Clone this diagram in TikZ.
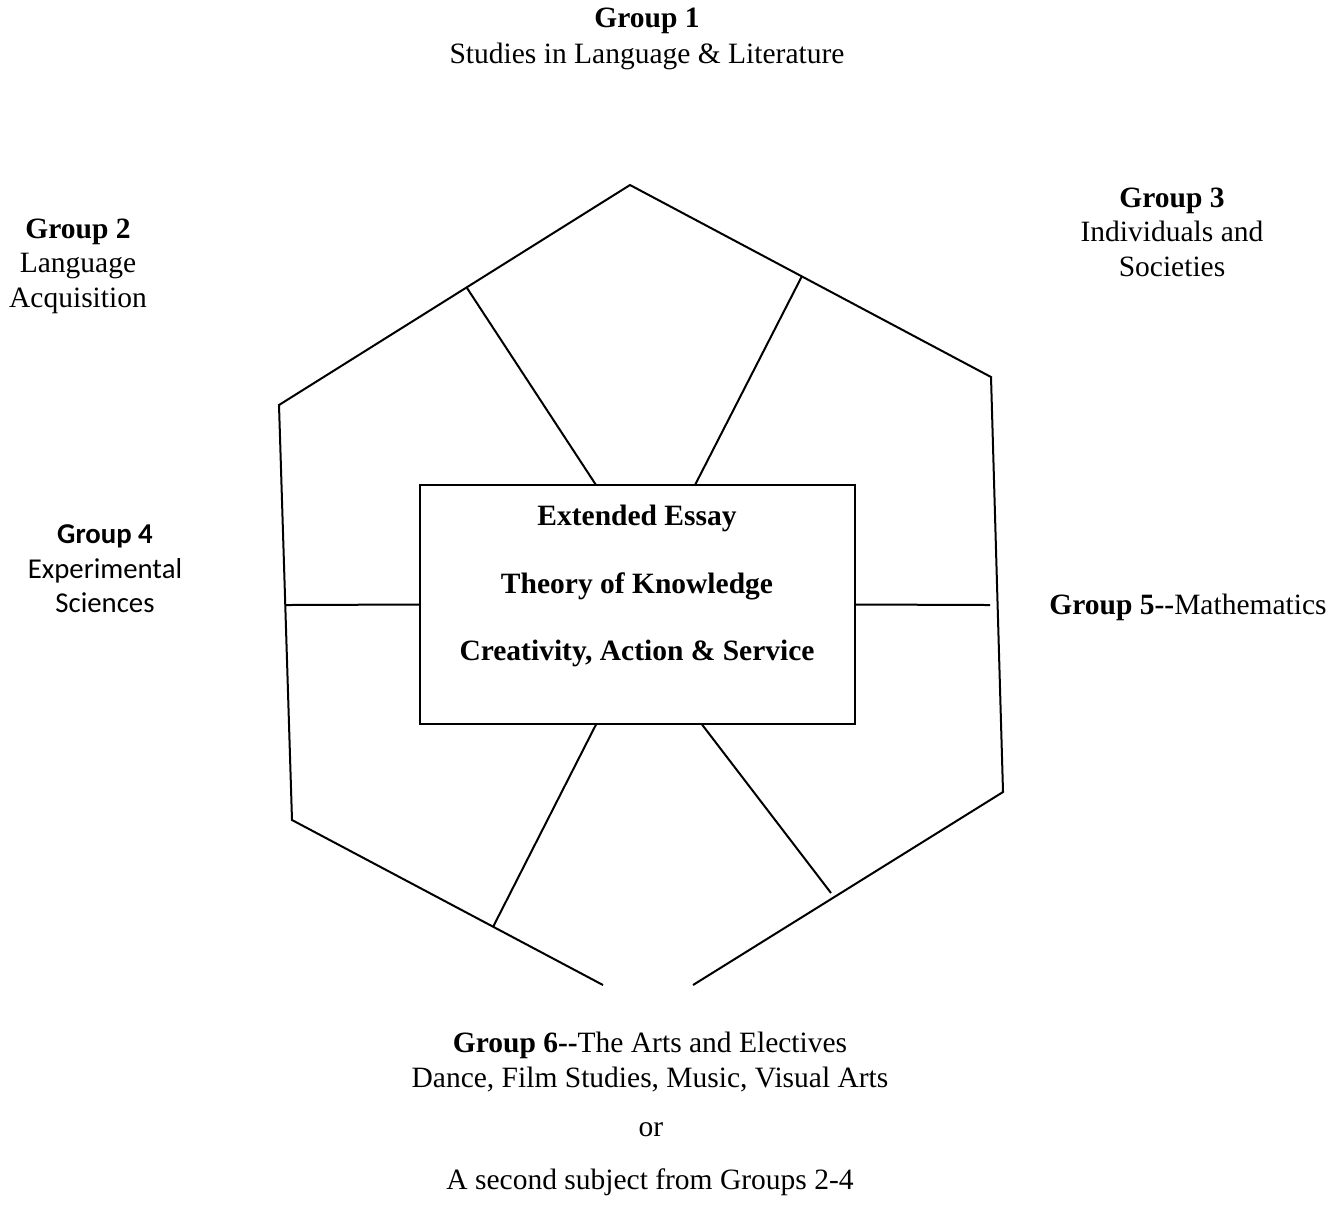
\documentclass[tikz,border=0pt]{standalone}
\usepackage{fontspec}
\setmainfont{Liberation Serif}
\newfontfamily\grpsans{Carlito}
\usetikzlibrary{positioning}

\tikzset{
  lbl/.style={inner sep=0pt, align=center, font=\fontsize{11.8}{13.8}\selectfont},
  lblsans/.style={lbl, font=\grpsans\fontsize{11.5}{13.8}\selectfont},
  corebox/.style={draw, line width=0.8pt, minimum width=174pt, minimum height=95.6pt, inner sep=0pt},
  wall/.style={line width=0.8pt, line join=miter}
}

\begin{document}
\begin{tikzpicture}[x=0.4pt, y=-0.4pt]
	\useasboundingbox (0,0) rectangle (1343,1228);
	% hexagon corners, open at the bottom
	\coordinate (hbl) at (603,985); \coordinate (hlb) at (292,820);
	\coordinate (hlt) at (279,405); \coordinate (htop) at (630,185);
	\coordinate (hrt) at (991,377); \coordinate (hrb) at (1003,792);
	\coordinate (hbr) at (693,985);
	\draw[wall] (hbl) -- (hlb) -- (hlt) -- (htop) -- (hrt) -- (hrb) -- (hbr);
	
	\node[corebox] (core) at (637.5,604.5) {};
	
	% spokes
	\coordinate (s1) at (467,288); \coordinate (c1) at (596,485);
	\coordinate (s2) at (802,276); \coordinate (c2) at (695,485);
	\coordinate (s3) at (286,605); \coordinate (s4) at (990,605);
	\coordinate (s5) at (493,927); \coordinate (c5) at (596,724.5);
	\coordinate (s6) at (831,893); \coordinate (c6) at (702,724.5);
	\draw[wall] (s1) -- (c1); \draw[wall] (s2) -- (c2);
	\draw[wall] (s3) -- (core.west); \draw[wall] (s4) -- (core.east);
	\draw[wall] (s5) -- (c5); \draw[wall] (s6) -- (c6);
	
	% core subjects
	\node[lbl] (ee) at (637,518) {\textbf{Extended Essay}};
	\node[lbl] (tok) at (637,586) {\textbf{Theory of Knowledge}};
	\node[lbl] (cas) at (637,653) {\textbf{Creativity, Action \& Service}};
	
	% groups
	\node[lbl, font=\fontsize{11.8}{14.4}\selectfont] (g1) at (647,39) {\textbf{Group 1}\\Studies in Language \& Literature};
	\node[lbl] (g2) at (78,266) {\textbf{Group 2}\\Language\\Acquisition};
	\node[lbl] (g3) at (1172,232) {\textbf{Group 3}\\Individuals and\\Societies};
	\node[lblsans] (g4) at (105,569) {\textbf{Group 4}\\Experimental\\Sciences};
	\node[lbl] (g5) at (1188,607) {\textbf{Group 5-{}-}Mathematics};
	\node[lbl] (g6) at (650,1062) {\textbf{Group 6-{}-}The Arts and Electives\\Dance, Film Studies, Music, Visual Arts};
	\node[lbl] (g6or) at (651,1130) {or};
	\node[lbl] (g6alt) at (650,1182) {A second subject from Groups 2-4};
\end{tikzpicture}
\end{document}
